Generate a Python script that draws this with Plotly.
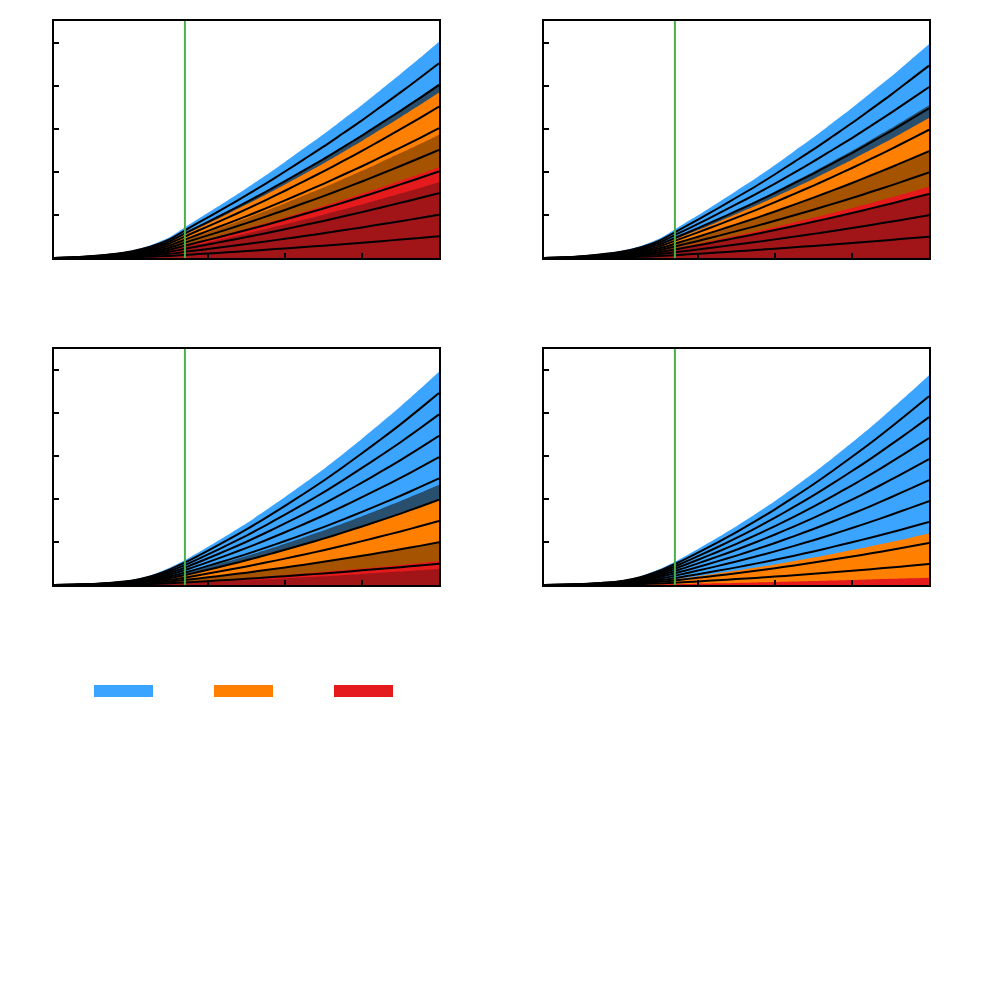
import plotly.graph_objects as go
from plotly.subplots import make_subplots

x_vals = [0, 0.25, 0.5, 0.75, 1.0, 1.25, 1.5, 1.75, 2.0, 2.25, 2.5, 2.75,
          3.0, 3.25, 3.5, 3.75, 4.0, 4.25, 4.5, 4.75, 5.0]

# top envelope of each panel
top_p1 = [0, 0.015, 0.05, 0.10, 0.17, 0.29, 0.48, 0.77, 1.05, 1.33, 1.62, 1.92,
          2.23, 2.55, 2.87, 3.21, 3.55, 3.91, 4.27, 4.64, 5.02]
top_p2 = [0, 0.014, 0.047, 0.094, 0.16, 0.27, 0.45, 0.72, 0.99, 1.27, 1.56, 1.85,
          2.16, 2.48, 2.80, 3.14, 3.48, 3.84, 4.20, 4.58, 4.96]
top_p3 = [0, 0.007, 0.025, 0.06, 0.11, 0.22, 0.40, 0.63, 0.89, 1.16, 1.44, 1.74,
          2.05, 2.37, 2.70, 3.05, 3.41, 3.78, 4.16, 4.56, 4.97]
top_p4 = [0, 0.006, 0.023, 0.055, 0.10, 0.20, 0.37, 0.59, 0.84, 1.10, 1.37, 1.66,
          1.96, 2.28, 2.61, 2.96, 3.32, 3.69, 4.08, 4.48, 4.89]

# black fan lines, as share of the top envelope
line_shares = [0.1, 0.2, 0.3, 0.4, 0.5, 0.6, 0.7, 0.8, 0.9]

# upper edge of each coloured band (share of the envelope), drawn top-down
band_names = ['blue', 'slate', 'orange', 'brown', 'red', 'darkred']
bands_p1 = [1.0, 0.805, 0.765, 0.57, 0.42, 0.35]
bands_p2 = [1.0, 0.715, 0.655, 0.50, 0.333, 0.297]
bands_p3 = [1.0, 0.47, 0.396, 0.20, 0.112, 0.075]
bands_p4 = [1.0, None, 0.245, None, 0.035, None]

split_x = 1.7

colors = {'blue': '#3ba4ff', 'slate': '#284f6e', 'orange': '#ff7f00',
          'brown': '#a65300', 'red': '#e41a1c', 'darkred': '#a11519'}

panels = [(top_p1, bands_p1, 1, 1), (top_p2, bands_p2, 1, 2),
          (top_p3, bands_p3, 2, 1), (top_p4, bands_p4, 2, 2)]

fig = make_subplots(rows=2, cols=2)

for top, bands, r, c in panels:
    for name, share in zip(band_names, bands):
        if share is None:
            continue
        fig.add_trace(go.Scatter(x=x_vals, y=[share * v for v in top], mode='lines',
                                 line=dict(width=0, shape='spline', smoothing=0.6),
                                 fill='tozeroy', fillcolor=colors[name],
                                 showlegend=False, hoverinfo='skip'), row=r, col=c)
    for s in line_shares:
        fig.add_trace(go.Scatter(x=x_vals, y=[s * v for v in top], mode='lines',
                                 line=dict(color='black', width=2, shape='spline', smoothing=0.6),
                                 showlegend=False, hoverinfo='skip'), row=r, col=c)
    fig.add_trace(go.Scatter(x=[split_x, split_x], y=[0, 5.5], mode='lines',
                             line=dict(color='#4daf4a', width=2),
                             showlegend=False, hoverinfo='skip'), row=r, col=c)

W = 981
off = 8  # page margin around the plot div
xdoms = [[(54 - off) / W, (439 - off) / W], [(544 - off) / W, (929 - off) / W]]
ydoms = [[1 - (258 - off) / W, 1 - (21 - off) / W], [1 - (585 - off) / W, 1 - (349 - off) / W]]
for r in (1, 2):
    for c in (1, 2):
        fig.update_xaxes(domain=xdoms[c - 1], range=[0, 5], dtick=1, ticks='inside',
                         ticklen=5, tickwidth=1.5, tickcolor='black', showticklabels=False,
                         showgrid=False, zeroline=False, showline=True, linecolor='black',
                         linewidth=2, mirror=True, row=r, col=c)
        fig.update_yaxes(domain=ydoms[r - 1], range=[0, 5.5], dtick=1, ticks='inside',
                         ticklen=5, tickwidth=1.5, tickcolor='black', showticklabels=False,
                         showgrid=False, zeroline=False, showline=True, linecolor='black',
                         linewidth=2, mirror=True, row=r, col=c)

# legend swatches (labels are blank in the source)
legend_colors = ['blue', 'orange', 'red']
legend_left = [94, 214, 334]
for name, left in zip(legend_colors, legend_left):
    fig.add_shape(type='rect', xref='paper', yref='paper',
                  x0=(left - off) / W, x1=(left + 59 - off) / W,
                  y0=1 - (697 - off) / W, y1=1 - (685 - off) / W,
                  fillcolor=colors[name], line=dict(width=0))

fig.update_layout(width=W, height=W, margin=dict(l=0, r=0, t=0, b=0),
                  plot_bgcolor='white', paper_bgcolor='white', showlegend=False)

fig.write_html("out.html")
